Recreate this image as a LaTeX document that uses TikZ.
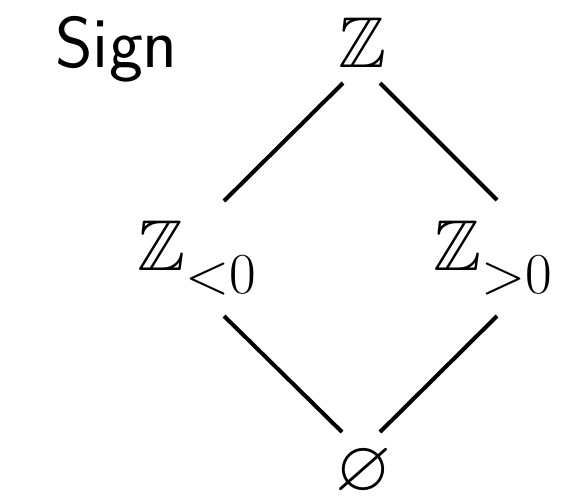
\documentclass[tikz,border=0pt]{standalone}
\usepackage{fix-cm}
\usepackage{amssymb}
\usepackage{fontspec}
\usetikzlibrary{calc}

\newcommand{\signsub}[1]{_{\raisebox{-0.17em}{\fontsize{33}{40}\selectfont$#1$}}}

\begin{document}
\begin{tikzpicture}[
        x=0.02cm,
        y=-0.02cm,
        latticeText/.style={
            inner sep=0pt,
            anchor=base,
            font=\fontsize{41}{49}\selectfont
        },
        titleText/.style={
            inner sep=0pt,
            anchor=base west,
            font=\fontsize{41}{49}\selectfont\sffamily
        },
        order/.style={
            line width=2.3pt
        }
    ]

        \useasboundingbox (0,0) rectangle (574,498);

        \node[titleText] (title) at (55,67) {Sign};

        \node[latticeText] (top) at (363,67) {$\mathbb{Z}$};
        \node[latticeText] (neg) at (197,270) {$\mathbb{Z}\signsub{{<}0}$};
        \node[latticeText] (pos) at (493,270) {$\mathbb{Z}\signsub{{>}0}$};
        \node[latticeText] (bot) at (364,490) {$\varnothing$};

        \draw[order] ($(top.base)+(-20,16)$) -- ($(neg.base)+(27,-69)$);
        \draw[order] ($(top.base)+(17,16)$) -- ($(pos.base)+(4,-70)$);
        \draw[order] ($(neg.base)+(27,46)$) -- ($(bot.base)+(-22,-58)$);
        \draw[order] ($(pos.base)+(4,46)$) -- ($(bot.base)+(16,-58)$);

    \end{tikzpicture}
\end{document}
